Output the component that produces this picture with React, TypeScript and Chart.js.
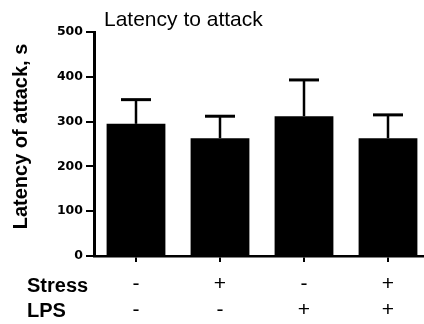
import React, { useEffect, useRef } from "react";
import { Chart, registerables } from "chart.js";

Chart.register(...registerables);

const categories = ["1", "2", "3", "4"];
const stressSigns = ["-", "+", "-", "+"];
const lpsSigns = ["-", "-", "+", "+"];
const latencyMean = [295, 263, 312, 263];
const latencySem = [54, 49, 81, 52];
const yTicks = [0, 100, 200, 300, 400, 500];
const chartTitle = "Latency to attack";
const yTitle = "Latency of attack, s";
const rowLabels = ["Stress", "LPS"];

const FONT = "'Liberation Sans', Arial, sans-serif";

const extrasPlugin = {
  id: "extras",
  afterDatasetsDraw(chart: any) {
    const ctx = chart.ctx;
    const yScale = chart.scales.y;
    const meta = chart.getDatasetMeta(0);
    ctx.save();
    ctx.strokeStyle = "#000";
    meta.data.forEach((bar: any, i: number) => {
      const x = bar.x;
      const yTop = bar.y;
      const yErr = yScale.getPixelForValue(latencyMean[i] + latencySem[i]);
      ctx.lineWidth = 2.5;
      ctx.beginPath();
      ctx.moveTo(x, yTop);
      ctx.lineTo(x, yErr);
      ctx.stroke();
      ctx.lineWidth = 3;
      ctx.beginPath();
      ctx.moveTo(x - 15, yErr);
      ctx.lineTo(x + 15, yErr);
      ctx.stroke();
    });
    ctx.restore();
  },
  afterDraw(chart: any) {
    const ctx = chart.ctx;
    const area = chart.chartArea;
    ctx.save();
    ctx.fillStyle = "#000";
    ctx.font = `21px ${FONT}`;
    ctx.textAlign = "left";
    ctx.textBaseline = "alphabetic";
    ctx.fillText(chartTitle, area.left + 10, 26);
    ctx.font = `bold 20px ${FONT}`;
    ctx.fillText(rowLabels[0], 27, 292);
    ctx.fillText(rowLabels[1], 27, 317);
    ctx.translate(27, 136.5);
    ctx.rotate(-Math.PI / 2);
    ctx.textAlign = "center";
    ctx.fillText(yTitle, 0, 0);
    ctx.restore();
  },
};

export default function App() {
  const ref = useRef<HTMLCanvasElement | null>(null);
  useEffect(() => {
    if (!ref.current) return;
    const chart = new Chart(ref.current, {
      type: "bar",
      data: {
        labels: categories.map((_, i) => [stressSigns[i], lpsSigns[i]]),
        datasets: [
          {
            data: latencyMean,
            backgroundColor: "#000",
            borderWidth: 0,
            barPercentage: 0.7,
            categoryPercentage: 1,
          },
        ],
      },
      options: {
        responsive: false,
        animation: false,
        devicePixelRatio: 1,
        layout: { padding: { top: 32, left: 0, right: 10, bottom: 0 } },
        plugins: {
          legend: { display: false },
          tooltip: { enabled: false },
          title: { display: false },
        },
        scales: {
          x: {
            offset: true,
            afterFit: (s: any) => {
              s.height = 68;
            },
            grid: {
              offset: false,
              drawOnChartArea: false,
              drawTicks: true,
              tickLength: 6,
              color: "#000",
              lineWidth: 2,
            },
            border: { display: true, color: "#000", width: 2.5 },
            ticks: {
              autoSkip: false,
              maxRotation: 0,
              padding: 10,
              color: "#000",
              font: { family: FONT, size: 21, lineHeight: 1.2 },
            },
          },
          y: {
            min: 0,
            max: 500,
            afterFit: (s: any) => {
              s.width = 94;
            },
            afterBuildTicks: (s: any) => {
              s.ticks = yTicks.map((v) => ({ value: v }));
            },
            grid: {
              drawOnChartArea: false,
              drawTicks: true,
              tickLength: 8,
              color: "#000",
              lineWidth: 2,
            },
            border: { display: true, color: "#000", width: 3 },
            ticks: {
              padding: 3,
              color: "#000",
              font: { family: "'DejaVu Sans', sans-serif", size: 12.5, weight: "bold" },
            },
          },
        },
      },
      plugins: [extrasPlugin],
    });
    return () => chart.destroy();
  }, []);
  return (
    <div
      style={{
        position: "fixed",
        left: 0,
        top: 0,
        width: 424,
        height: 324,
        overflow: "hidden",
        background: "#fff",
      }}
    >
      <canvas ref={ref} width={440} height={324} style={{ display: "block" }} />
    </div>
  );
}
